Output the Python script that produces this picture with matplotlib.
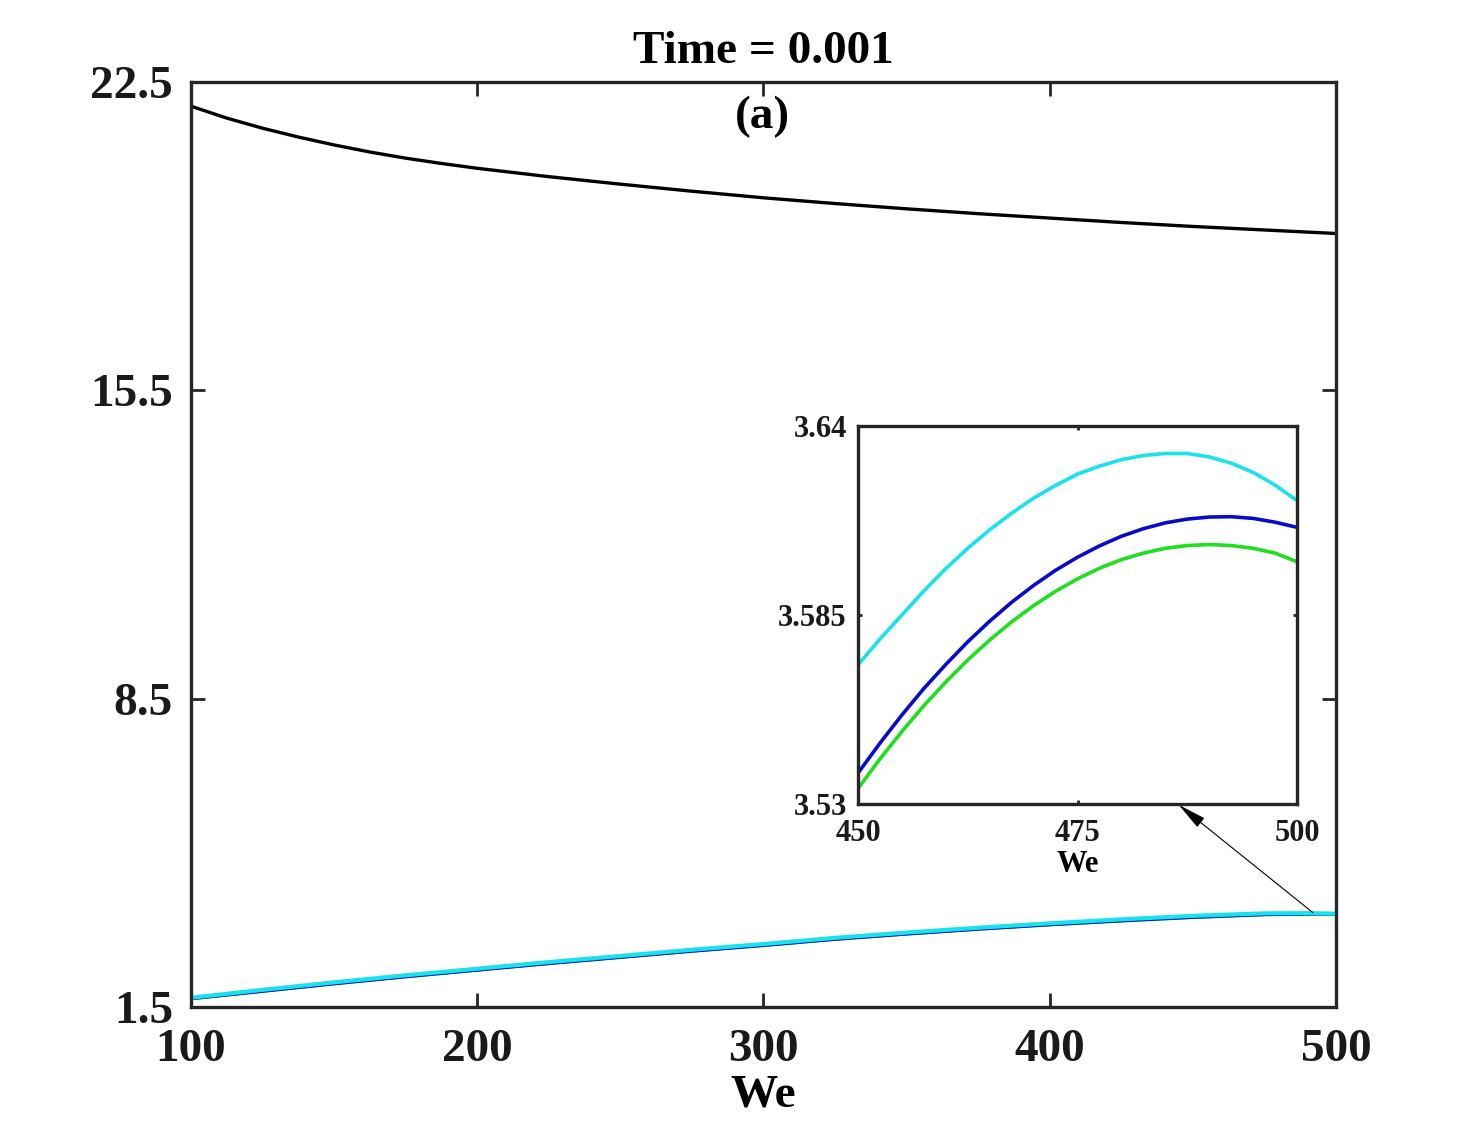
import numpy as np
import matplotlib
matplotlib.use('Agg')
import matplotlib.pyplot as plt

plt.rcParams['font.family'] = ['Liberation Serif', 'DejaVu Serif']
plt.rcParams['font.weight'] = 'bold'

# main plot data
we_top = [100, 112.5, 125, 137.5, 150, 162.5, 175, 187.5, 200, 225, 250, 275, 300,
          325, 350, 375, 400, 425, 450, 475, 500]
top_curve = [21.95, 21.68, 21.45, 21.25, 21.07, 20.91, 20.77, 20.65, 20.54, 20.35, 20.18,
             20.02, 19.87, 19.74, 19.62, 19.51, 19.41, 19.31, 19.22, 19.14, 19.06]

we_low = [100, 125, 150, 175, 200, 225, 250, 275, 300, 325, 350, 375, 400, 425, 450, 475, 490, 500]
green_main = [1.69, 1.86, 2.03, 2.19, 2.34, 2.49, 2.63, 2.77, 2.90, 3.04, 3.16, 3.27,
              3.37, 3.455, 3.5345, 3.5955, 3.6055, 3.6005]
blue_main = [1.69, 1.86, 2.03, 2.19, 2.34, 2.49, 2.63, 2.77, 2.90, 3.04, 3.16, 3.27,
             3.37, 3.46, 3.539, 3.6018, 3.6135, 3.6105]
cyan_main = [1.71, 1.89, 2.06, 2.22, 2.37, 2.52, 2.66, 2.80, 2.93, 3.07, 3.19, 3.30,
             3.40, 3.49, 3.5705, 3.626, 3.631, 3.6183]

# inset data (zoom 450-500)
we_zoom = [450, 452.5, 455, 457.5, 460, 462.5, 465, 467.5, 470, 472.5, 475,
           477.5, 480, 482.5, 485, 487.5, 490, 492.5, 495, 497.5, 500]
cyan_zoom = [3.5705, 3.5780, 3.5850, 3.5920, 3.5985, 3.6044, 3.6098, 3.6146, 3.6190, 3.6227, 3.6260,
             3.6283, 3.6302, 3.6314, 3.6320, 3.6320, 3.6310, 3.6292, 3.6265, 3.6228, 3.6183]
blue_zoom = [3.5390, 3.5477, 3.5559, 3.5636, 3.5706, 3.5772, 3.5832, 3.5887, 3.5936, 3.5980, 3.6018,
             3.6051, 3.6079, 3.6101, 3.6118, 3.6129, 3.6135, 3.6136, 3.6131, 3.6120, 3.6105]
green_zoom = [3.5345, 3.5431, 3.5511, 3.5586, 3.5655, 3.5719, 3.5777, 3.5830, 3.5877, 3.5919, 3.5955,
              3.5986, 3.6011, 3.6030, 3.6044, 3.6052, 3.6055, 3.6052, 3.6044, 3.6030, 3.6005]

main_xticks = [100, 200, 300, 400, 500]
main_yticks = [1.5, 8.5, 15.5, 22.5]
zoom_xticks = [450, 475, 500]
zoom_yticks = [3.53, 3.585, 3.64]

c_cyan = '#18E2EE'
c_blue = '#0A0ACC'
c_green = '#1EE01E'
spine_col = '#262626'

fig = plt.figure(figsize=(14.7, 11.32), dpi=100)
ax = fig.add_axes([0.1299, 0.1104, 0.7789, 0.8172])

ax.plot(we_top, top_curve, color='black', lw=2.4)
ax.plot(we_low, green_main, color=c_green, lw=2.4)
ax.plot(we_low, blue_main, color=c_blue, lw=2.4)
ax.plot(we_low, cyan_main, color=c_cyan, lw=3.0)

ax.set_xlim(100, 500)
ax.set_ylim(1.5, 22.5)
ax.set_xticks(main_xticks)
ax.set_yticks(main_yticks)
ax.set_yticklabels(['1.5', '8.5', '15.5', '22.5'])
ax.tick_params(direction='in', length=10, width=2, top=True, right=True,
               labelsize=34, colors=spine_col, labelcolor='#1a1a1a')
ax.tick_params(axis='x', pad=16)
ax.tick_params(axis='y', pad=13)
for s in ax.spines.values():
    s.set_linewidth(2.4)
    s.set_color(spine_col)
ax.set_xlabel('We', fontsize=34, fontweight='bold', labelpad=2)
ax.set_title('Time = 0.001', fontsize=34, fontweight='bold', pad=14)
ax.text(0.4987, 0.962, '(a)', transform=ax.transAxes, ha='center', va='center',
        fontsize=34, fontweight='bold')

# inset
ins = fig.add_axes([0.5837, 0.2898, 0.2986, 0.3339])
ins.plot(we_zoom, cyan_zoom, color=c_cyan, lw=2.6)
ins.plot(we_zoom, blue_zoom, color=c_blue, lw=2.6)
ins.plot(we_zoom, green_zoom, color=c_green, lw=2.6)
ins.set_xlim(450, 500)
ins.set_ylim(3.53, 3.64)
ins.set_xticks(zoom_xticks)
ins.set_yticks(zoom_yticks)
ins.set_yticklabels(['3.53', '3.585', '3.64'])
ins.tick_params(direction='in', length=3, width=2, top=True, right=True,
                labelsize=22, colors=spine_col, labelcolor='#1a1a1a')
ins.tick_params(axis='x', pad=11)
ins.tick_params(axis='y', pad=8)
for s in ins.spines.values():
    s.set_linewidth(2.4)
    s.set_color(spine_col)
ins.set_xlabel('We', fontsize=22, fontweight='bold', labelpad=1)

ax.annotate('', xy=(486.4, 3.53), xycoords=ins.transData,
            xytext=(492, 3.64), textcoords=ax.transData,
            arrowprops=dict(arrowstyle='-|>,head_length=0.9,head_width=0.18',
                            color='black', lw=0.8, mutation_scale=20,
                            shrinkA=0, shrinkB=1))

fig.savefig('out.png', dpi=100, facecolor='white')
